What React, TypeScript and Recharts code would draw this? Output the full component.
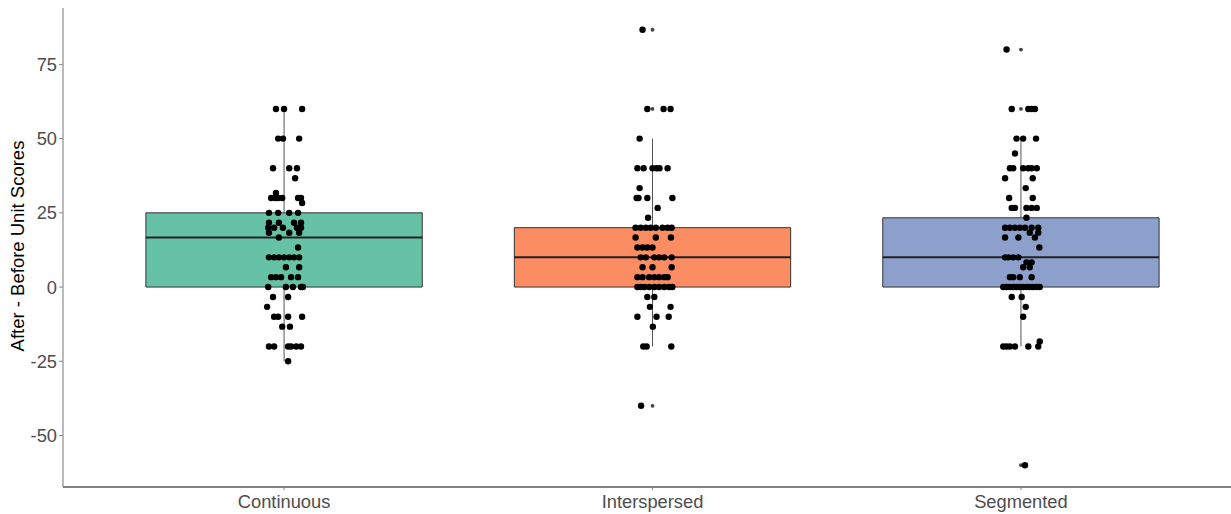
import {
  ComposedChart,
  Scatter,
  XAxis,
  YAxis,
  ReferenceArea,
  ReferenceLine,
} from 'recharts';

// categories and box statistics
const categories = ['Continuous', 'Interspersed', 'Segmented'];
const boxColors = ['#66C2A5', '#FC8D62', '#8DA0CB'];
const lowerQuartiles = [0, 0, 0];
const medians = [16.67, 10, 10];
const upperQuartiles = [25, 20, 23.33];
const whiskerLows = [-25, -20, -20];
const whiskerHighs = [60, 50, 50];
const outliers: number[][] = [[], [86.67, 60, -40], [80, 60, -60]];

const yTicks = [-50, -25, 0, 25, 50, 75];

// jittered observations: [horizontal jitter, after - before score]
const continuousPoints: [number, number][] = [
  [-0.022, 60], [0.0, 60], [0.049, 60],
  [-0.016, 50], [-0.003, 50], [0.041, 50],
  [-0.03, 40], [0.014, 40], [0.035, 40],
  [0.03, 36.67], [-0.022, 31.67],
  [-0.035, 30], [-0.024, 30], [-0.016, 30], [-0.005, 30], [0.038, 30], [0.046, 30],
  [0.049, 28.33],
  [-0.041, 25], [-0.016, 25], [0.014, 25], [0.038, 25],
  [-0.041, 21.67], [-0.014, 21.67], [0.027, 21.67], [0.046, 21.67],
  [-0.043, 20], [-0.027, 20], [-0.003, 20], [0.035, 20], [0.046, 20],
  [-0.041, 18.33], [0.014, 18.33], [0.041, 18.33],
  [-0.014, 16.67], [0.038, 13.33],
  [-0.041, 10], [-0.027, 10], [-0.014, 10], [0.0, 10], [0.014, 10], [0.027, 10], [0.041, 10],
  [0.005, 6.67], [0.041, 6.67],
  [-0.035, 3.33], [-0.022, 3.33], [-0.008, 3.33], [0.019, 3.33], [0.038, 3.33],
  [-0.043, 0], [0.005, 0], [0.024, 0], [0.046, 0], [0.051, 0],
  [-0.03, -3.33], [0.011, -3.33],
  [-0.046, -6.67],
  [-0.027, -10], [-0.016, -10], [0.011, -10], [0.049, -10],
  [-0.005, -13.33], [0.016, -13.33],
  [-0.041, -20], [-0.027, -20], [0.011, -20], [0.019, -20], [0.033, -20], [0.046, -20],
  [0.011, -25],
];

const interspersedPoints: [number, number][] = [
  [-0.027, 86.67],
  [-0.014, 60], [0.03, 60], [0.049, 60],
  [-0.035, 50],
  [-0.041, 40], [-0.024, 40], [0.0, 40], [0.011, 40], [0.019, 40], [0.041, 40],
  [-0.035, 33.33],
  [-0.043, 30], [-0.038, 30], [-0.014, 30], [0.054, 30],
  [0.014, 26.67], [-0.012, 23.33],
  [-0.046, 20], [-0.032, 20], [-0.018, 20], [-0.005, 20], [0.009, 20], [0.027, 20], [0.041, 20], [0.052, 20],
  [-0.046, 16.67], [0.009, 16.67], [0.05, 16.67],
  [-0.041, 13.33], [-0.027, 13.33], [-0.014, 13.33], [0.0, 13.33],
  [-0.032, 10], [-0.018, 10], [0.005, 10], [0.018, 10], [0.032, 10], [0.052, 10],
  [-0.027, 6.67], [0.0, 6.67], [0.052, 6.67],
  [-0.041, 3.33], [-0.027, 3.33], [-0.009, 3.33], [0.005, 3.33], [0.018, 3.33], [0.032, 3.33], [0.041, 3.33],
  [-0.041, 0], [-0.032, 0], [-0.022, 0], [-0.009, 0], [0.005, 0], [0.018, 0], [0.032, 0], [0.045, 0], [0.054, 0],
  [-0.014, -3.33], [0.005, -3.33],
  [-0.007, -6.67], [0.049, -6.67],
  [-0.041, -10], [0.011, -10], [0.044, -10],
  [0.001, -13.33],
  [-0.025, -20], [-0.016, -20], [0.051, -20],
  [-0.031, -40],
];

const segmentedPoints: [number, number][] = [
  [-0.039, 80],
  [-0.025, 60], [0.02, 60], [0.029, 60], [0.038, 60],
  [-0.012, 50], [0.006, 50], [0.041, 50],
  [-0.016, 45],
  [-0.03, 40], [-0.021, 40], [0.006, 40], [0.02, 40], [0.029, 40], [0.043, 40],
  [-0.043, 36.67], [0.032, 36.67],
  [0.013, 33.33],
  [-0.032, 30], [0.032, 30],
  [-0.025, 26.67], [-0.016, 26.67], [0.015, 26.67], [0.029, 26.67], [0.043, 26.67],
  [0.015, 23.33],
  [-0.043, 20], [-0.03, 20], [-0.016, 20], [-0.003, 20], [0.011, 20], [0.029, 20], [0.047, 20],
  [0.024, 18.33], [0.047, 18.33],
  [-0.043, 16.67], [-0.007, 16.67], [0.038, 16.67],
  [0.05, 13.33],
  [-0.043, 10], [-0.034, 10], [-0.021, 10], [-0.007, 10],
  [0.015, 8.33], [0.029, 8.33],
  [0.006, 6.67], [0.024, 6.67],
  [-0.03, 3.33], [-0.021, 3.33], [-0.003, 3.33], [0.029, 3.33],
  [-0.048, 0], [-0.039, 0], [-0.03, 0], [-0.021, 0], [-0.012, 0], [-0.003, 0],
  [0.006, 0], [0.015, 0], [0.024, 0], [0.033, 0], [0.043, 0], [0.051, 0],
  [-0.025, -3.33], [0.002, -3.33],
  [0.013, -6.67],
  [0.006, -10],
  [0.051, -18.33],
  [-0.048, -20], [-0.039, -20], [-0.03, -20], [-0.016, -20], [0.02, -20], [0.047, -20],
  [0.011, -60],
];

const groupPoints = [continuousPoints, interspersedPoints, segmentedPoints];

const jitterData = groupPoints.flatMap((pts, i) =>
  pts.map(([dx, v]) => ({ x: i + 1 + dx, y: v }))
);
const outlierData = outliers.flatMap((vals, i) => vals.map((v) => ({ x: i + 1, y: v })));

const HALF_BOX = 0.375;

const Dot = (props: any) => <circle cx={props.cx} cy={props.cy} r={3.2} fill="#000" />;
const SmallDot = (props: any) => <circle cx={props.cx} cy={props.cy} r={1.9} fill="#444" />;

const YTitle = () => (
  <text
    x={17}
    y={246}
    transform="rotate(-90, 17, 246)"
    textAnchor="middle"
    dominantBaseline="central"
    fontSize={18.5}
    fill="#000"
    fontFamily="'Liberation Sans', Arial, sans-serif"
  >
    After - Before Unit Scores
  </text>
);

export default function App() {
  return (
    <div
      style={{
        position: 'fixed',
        left: 0,
        top: 0,
        width: 1231,
        height: 514,
        overflow: 'hidden',
        background: '#fff',
        fontFamily: "'Liberation Sans', Arial, sans-serif",
      }}
    >
      <ComposedChart width={1250} height={514} margin={{ top: 8, right: 8, bottom: 0, left: 0 }}>
        <XAxis
          type="number"
          dataKey="x"
          domain={[0.4, 3.6]}
          ticks={[1, 2, 3]}
          allowDataOverflow
          tickFormatter={(v: number) => categories[v - 1] ?? ''}
          height={27}
          stroke="#000"
          tickSize={3}
          tickMargin={5}
          tick={{ fill: '#4d4d4d', fontSize: 18.3 }}
          tickLine={{ stroke: '#888' }}
        />
        <YAxis
          type="number"
          dataKey="y"
          domain={[-67.35, 94]}
          ticks={yTicks}
          allowDataOverflow
          width={63}
          stroke="#777"
          tickSize={4}
          tickMargin={2}
          tick={{ fill: '#4d4d4d', fontSize: 18.3 }}
          tickLine={{ stroke: '#888' }}
          label={YTitle}
        />
        {categories.map((c, i) => (
          <ReferenceLine
            key={`wl-${c}`}
            segment={[
              { x: i + 1, y: whiskerLows[i] },
              { x: i + 1, y: lowerQuartiles[i] },
            ]}
            stroke="#555"
            strokeWidth={1}
          />
        ))}
        {categories.map((c, i) => (
          <ReferenceLine
            key={`wh-${c}`}
            segment={[
              { x: i + 1, y: upperQuartiles[i] },
              { x: i + 1, y: whiskerHighs[i] },
            ]}
            stroke="#555"
            strokeWidth={1}
          />
        ))}
        {categories.map((c, i) => (
          <ReferenceArea
            key={`box-${c}`}
            x1={i + 1 - HALF_BOX}
            x2={i + 1 + HALF_BOX}
            y1={lowerQuartiles[i]}
            y2={upperQuartiles[i]}
            fill={boxColors[i]}
            fillOpacity={1}
            stroke="#333"
            strokeWidth={1}
          />
        ))}
        {categories.map((c, i) => (
          <ReferenceLine
            key={`med-${c}`}
            segment={[
              { x: i + 1 - HALF_BOX, y: medians[i] },
              { x: i + 1 + HALF_BOX, y: medians[i] },
            ]}
            stroke="#222"
            strokeWidth={2}
          />
        ))}
        <Scatter data={outlierData} shape={SmallDot} isAnimationActive={false} />
        <Scatter data={jitterData} shape={Dot} isAnimationActive={false} />
      </ComposedChart>
    </div>
  );
}
